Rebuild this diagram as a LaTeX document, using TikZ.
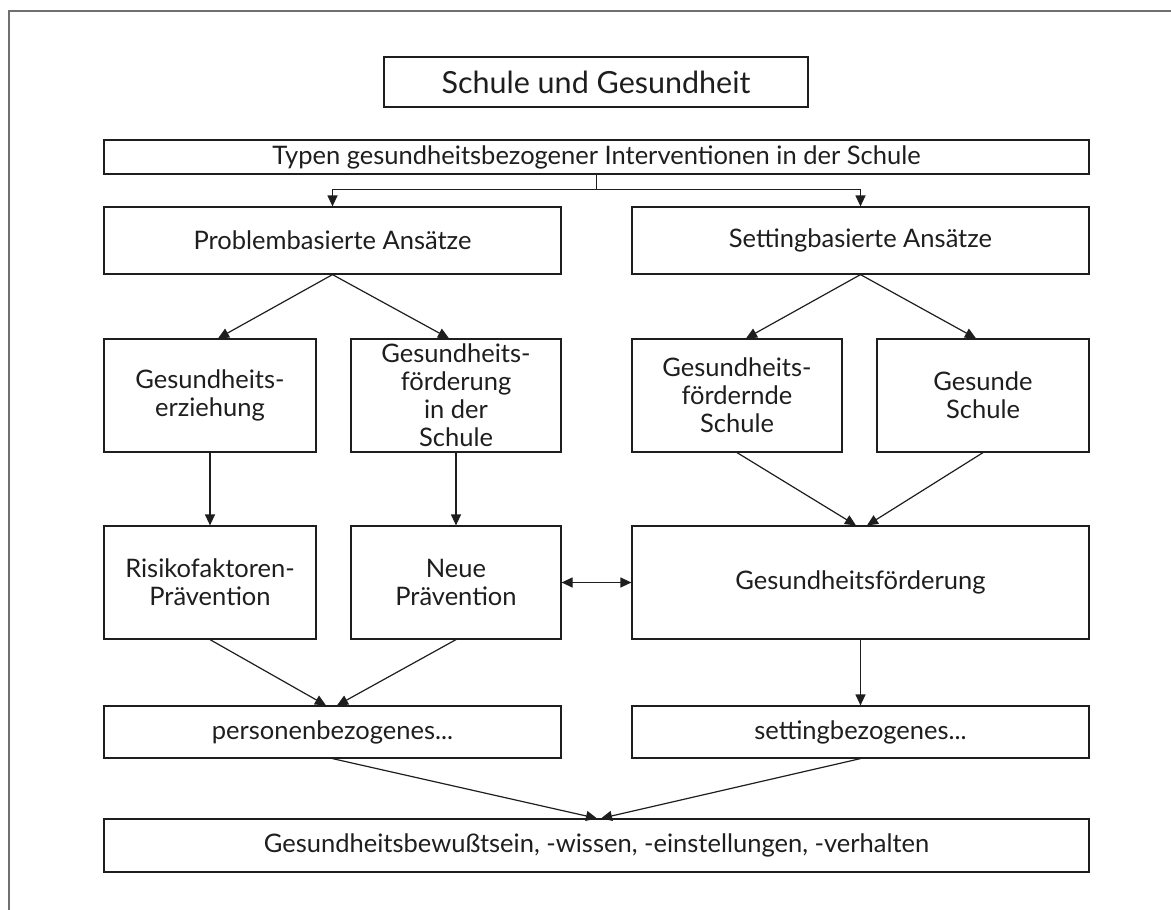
\documentclass[tikz,border=0pt]{standalone}
\usepackage{fontspec}
\setmainfont{Lato}
\usetikzlibrary{arrows.meta,calc}
\definecolor{ink}{HTML}{1E1E1E}
\definecolor{framegray}{HTML}{707070}
\tikzset{
  box/.style={draw=ink, line width=1.2pt, rectangle, inner sep=0pt, align=center, text=ink, font=\fontsize{25.5}{28}\selectfont},
  arr/.style={draw=ink, line width=1.2pt, -{Triangle[length=11pt,width=10pt]}},
  darr/.style={draw=ink, line width=1.2pt, {Triangle[length=11pt,width=10pt]}-{Triangle[length=11pt,width=10pt]}}
}
\begin{document}
\begin{tikzpicture}[x=1pt,y=-1pt]
\useasboundingbox (0,0) rectangle (1171,910);
\draw[framegray, line width=2pt] (8.5,930) -- (8.5,10.5) -- (1190,10.5);
\node[box, line width=2pt, minimum width=424pt, minimum height=50pt, font=\fontsize{30.5}{34}\selectfont] (title) at (596,82) {Schule und Gesundheit};
\node[box, minimum width=985pt, minimum height=34pt] (typ) at (596.5,157) {Typen gesundheitsbezogener Interventionen in der Schule};
\node[box, minimum width=457pt, minimum height=67pt] (prob) at (332.5,240.5) {Problembasierte Ansätze};
\node[box, minimum width=457pt, minimum height=67pt] (sett) at (860.5,240.5) {Settingbasierte Ansätze};
\node[box, minimum width=212pt, minimum height=113pt] (gerz) at (210,395.5) {Gesundheits-\\erziehung};
\node[box, minimum width=210pt, minimum height=113pt] (gfs) at (456,395.5) {Gesundheits-\\förderung\\in der\\Schule};
\node[box, minimum width=210pt, minimum height=113pt] (gfsch) at (737,395.5) {Gesundheits-\\fördernde\\Schule};
\node[box, minimum width=212pt, minimum height=113pt] (gs) at (983,395.5) {Gesunde\\Schule};
\node[box, minimum width=212pt, minimum height=113pt] (risk) at (210,582.5) {Risikofaktoren-\\Prävention};
\node[box, minimum width=210pt, minimum height=113pt] (neue) at (456,582.5) {Neue\\Prävention};
\node[box, minimum width=457pt, minimum height=113pt] (gf) at (860.5,582.5) {Gesundheitsförderung};
\node[box, minimum width=457pt, minimum height=52pt] (pers) at (332.5,732) {personenbezogenes...};
\node[box, minimum width=457pt, minimum height=52pt] (setb) at (860.5,732) {settingbezogenes...};
\node[box, minimum width=985pt, minimum height=53pt] (bot) at (596.5,845.5) {Gesundheitsbewußtsein, -wissen, -einstellungen, -verhalten};
% connectors
\draw[arr] (typ.south) -- ++(0,15) -| (prob.north);
\draw[arr] (typ.south) -- ++(0,15) -| (sett.north);
\draw[arr] (prob.south) -- ($(gerz.north)+(8,0)$);
\draw[arr] (prob.south) -- ($(gfs.north)+(-7,0)$);
\draw[arr] (sett.south) -- ($(gfsch.north)+(9,0)$);
\draw[arr] (sett.south) -- ($(gs.north)+(-7,0)$);
\draw[arr] (gerz.south) -- (risk.north);
\draw[arr] (gfs.south) -- (neue.north);
\draw[arr] (gfsch.south) -- ($(gf.north)+(-4.5,0)$);
\draw[arr] (gs.south) -- ($(gf.north)+(6.5,0)$);
\draw[darr] (neue.east) -- (gf.west);
\draw[arr] (risk.south) -- ($(pers.north)+(-6.5,0)$);
\draw[arr] (neue.south) -- ($(pers.north)+(4.5,0)$);
\draw[arr] (gf.south) -- (setb.north);
\draw[arr] (pers.south) -- ($(bot.north)+(0.5,0)$);
\draw[arr] (setb.south) -- ($(bot.north)+(4.5,0)$);
\end{tikzpicture}
\end{document}
